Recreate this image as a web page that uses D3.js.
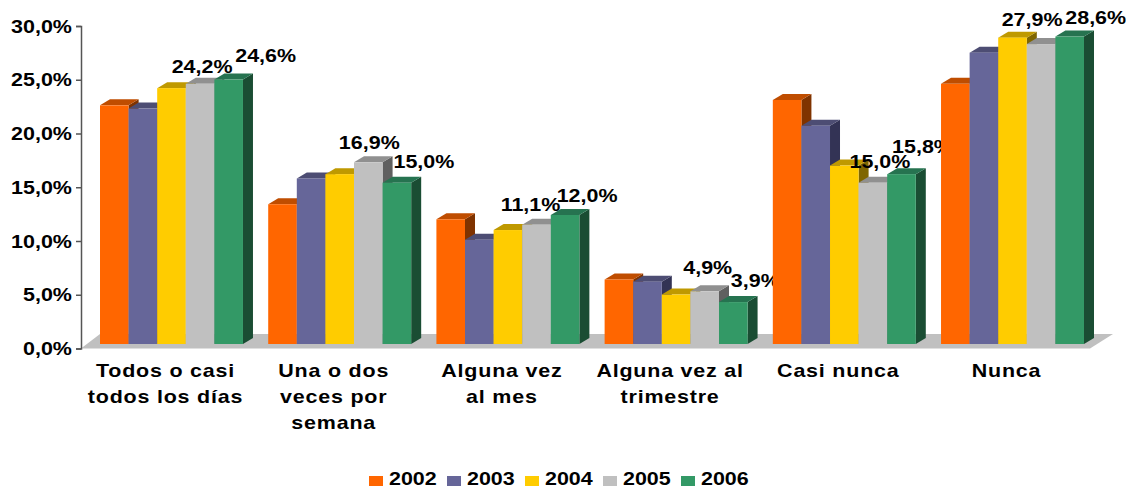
<html>
<head>
  <meta charset="utf-8">
  <script src="https://d3js.org/d3.v7.min.js"></script>
  <style>
    html, body { margin: 0; background: #fff; }
    svg { display: block; }
    text { font-family: "Liberation Sans", Arial, sans-serif; font-weight: bold; fill: #000; }
  </style>
</head>
<body>
<svg id="chart" width="1126" height="486"></svg>
<script>
const categories = ["Todos o casi todos los días", "Una o dos veces por semana", "Alguna vez al mes", "Alguna vez al trimestre", "Casi nunca", "Nunca"];
const categoryLines = [["Todos o casi", "todos los días"], ["Una o dos", "veces por", "semana"], ["Alguna vez", "al mes"], ["Alguna vez al", "trimestre"], ["Casi nunca"], ["Nunca"]];
const years = ["2002", "2003", "2004", "2005", "2006"];
const v2002 = [22.2, 13.0, 11.6, 6.0, 22.7, 24.2];
const v2003 = [21.9, 15.4, 9.7, 5.8, 20.3, 27.1];
const v2004 = [23.8, 15.8, 10.6, 4.6, 16.6, 28.5];
const v2005 = [24.2, 16.9, 11.1, 4.9, 15.0, 27.9];
const v2006 = [24.6, 15.0, 12.0, 3.9, 15.8, 28.6];
const series = [v2002, v2003, v2004, v2005, v2006];
const yTicks = [0, 5, 10, 15, 20, 25, 30];

// only the last two years carry labels in the original
const labelled = [3, 4];
// hand nudges for the labels [dx, dy], the original placed them a bit loosely
const nudge2005 = [[2, -11], [1, -13], [-6, -14], [3, -17], [7, -15], [-9, -18]];
const nudge2006 = [[37, -18], [27, -15], [22, -13], [22, -15], [21, -21], [26, -13]];

const front = ["#ff6600", "#666699", "#ffcc00", "#c0c0c0", "#339966"];
const topFace = ["#bf4d00", "#4d4d73", "#bf9900", "#909090", "#267350"];
const sideFace = ["#7f3300", "#333355", "#7f6600", "#606060", "#1a4d33"];

const svg = d3.select("svg#chart");
const depthX = 10, depthY = 6;
const floorLift = 4.5;
const stretchX = 1.13;
const stretch = "scale(" + stretchX + ",1)";

const y = d3.scaleLinear().domain([0, 30]).range([348.5, 26]);
const x = d3.scaleBand().domain(d3.range(categories.length)).range([100, 1084]).paddingInner(0.15);
const xYear = d3.scaleBand().domain(d3.range(years.length)).range([0, x.bandwidth()]);

// floor
svg.append("polygon")
  .attr("points", [[81, y(0)], [100, y(0) - 14.5], [1113, y(0) - 14.5], [1090, y(0)]].join(" "))
  .attr("fill", "#c0c0c0");

// value axis
const fmt = d3.formatLocale({decimal: ",", thousands: ".", grouping: [3], currency: ["", ""]}).format(".1f");
const axis = svg.append("g")
  .attr("transform", "translate(81,0)")
  .call(d3.axisLeft(y).tickValues(yTicks).tickSize(5).tickPadding(3).tickFormat(d => fmt(d) + "%"));
axis.selectAll("path, line").attr("stroke", "#555").attr("stroke-width", 1.5);
axis.selectAll("text")
  .attr("font-size", 19)
  .attr("transform", stretch);
axis.attr("font-family", null);

// bars and their labels go group by group, so a later group covers an earlier label
categories.forEach((c, i) => {
  const group = svg.append("g").attr("transform", "translate(" + x(i) + ",0)");
  const rows = group.selectAll("g").data(series.map((s, k) => ({k: k, v: s[i]}))).join("g");
  rows.append("polygon")
    .attr("fill", d => sideFace[d.k])
    .attr("points", d => {
      const r = xYear(d.k) + xYear.bandwidth(), t = y(d.v) - floorLift, b = y(0) - floorLift;
      return [[r, t], [r + depthX, t - depthY], [r + depthX, b - depthY], [r, b]].join(" ");
    });
  rows.append("polygon")
    .attr("fill", d => topFace[d.k])
    .attr("points", d => {
      const l = xYear(d.k), r = l + xYear.bandwidth(), t = y(d.v) - floorLift;
      return [[l, t], [l + depthX, t - depthY], [r + depthX, t - depthY], [r, t]].join(" ");
    });
  rows.append("rect")
    .attr("fill", d => front[d.k])
    .attr("x", d => xYear(d.k))
    .attr("width", xYear.bandwidth())
    .attr("y", d => y(d.v) - floorLift)
    .attr("height", d => y(0) - y(d.v));

  labelled.forEach(k => {
    const n = (k === 3 ? nudge2005 : nudge2006)[i];
    group.append("text")
      .attr("text-anchor", "middle")
      .attr("font-size", 19)
      .attr("transform", "translate(" + (xYear(k) + xYear.bandwidth() / 2 + n[0]) + "," + (y(series[k][i]) - floorLift + n[1]) + ") " + stretch)
      .text(fmt(series[k][i]) + "%");
  });
});

// category labels
const labels = svg.append("g").selectAll("g").data(categoryLines).join("g")
  .attr("transform", (d, i) => "translate(" + (x(i) + x.bandwidth() / 2 - 6) + ",0)");
labels.selectAll("text").data(d => d).join("text")
  .attr("text-anchor", "middle")
  .attr("font-size", 19)
  .attr("letter-spacing", 0.7)
  .attr("y", (d, j) => 377 + j * 26)
  .attr("transform", stretch)
  .text(d => d);

// legend
const legend = svg.append("g").selectAll("g").data(years).join("g")
  .attr("transform", (d, i) => "translate(" + (369 + i * 78) + ",476)");
legend.append("rect")
  .attr("width", 14).attr("height", 10)
  .attr("fill", (d, i) => front[i]);
legend.append("text")
  .attr("x", 20 / stretchX).attr("y", 9)
  .attr("font-size", 19)
  .attr("transform", stretch)
  .text(d => d);
</script>
</body>
</html>
